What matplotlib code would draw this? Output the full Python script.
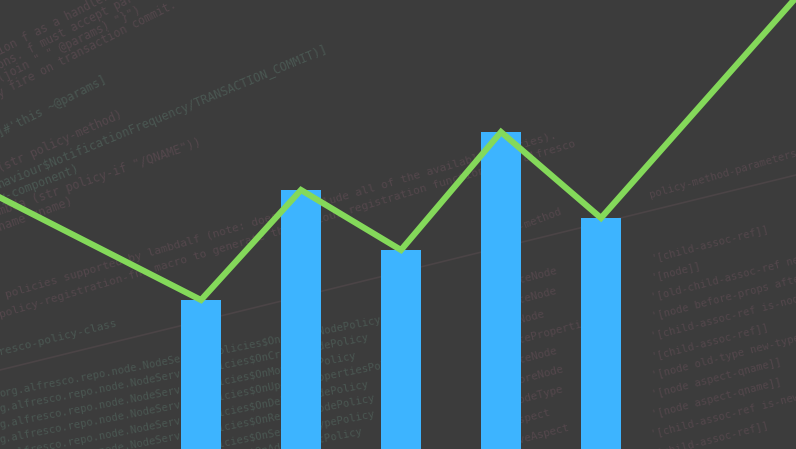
import matplotlib
matplotlib.use("Agg")
import matplotlib.pyplot as plt

# chart data (x in slot units, y in value units)
bar_x = [2, 3, 4, 5, 6]
bar_values = [149, 259, 199, 317, 231]
line_x = [0, 2, 3, 4, 5, 6, 8]
line_values = [251, 149, 259, 199, 317, 231, 457]

# faint code in the background
code_a = [
    "ion f as a handler for the",
    "ons. f must accept parameters",
    "(join \" \" @params) \"}\")",
    "y fire on transaction commit.",
]
code_b = [
    "]#'this ~@params]",
    "(str policy-method)",
    "haviour$NotificationFrequency/TRANSACTION_COMMIT)]",
    "y-component)",
    "mbda (str policy-if \"/QNAME\"))",
    "name qname)",
]
code_c = [
    "policies supported by lambdalf (note: doesn't include all of the available policies).",
    "policy-registration-fns macro to generate the various registration functions for alfresco",
]
code_class = "resco-policy-class"
code_col1 = [
    "org.alfresco.repo.node.NodeServicePolicies$OnCreateNodePolicy",
    "g.alfresco.repo.node.NodeServicePolicies$OnCreateNodePolicy",
    "g.alfresco.repo.node.NodeServicePolicies$OnMoveNodePolicy",
    "g.alfresco.repo.node.NodeServicePolicies$OnUpdatePropertiesPolicy",
    "g.alfresco.repo.node.NodeServicePolicies$OnDeleteNodePolicy",
    "g.alfresco.repo.node.NodeServicePolicies$OnRestoreNodePolicy",
    "g.alfresco.repo.node.NodeServicePolicies$OnSetNodeTypePolicy",
    "g.alfresco.repo.node.NodeServicePolicies$OnAddAspectPolicy",
]
code_method = "policy-method"
code_col2 = [
    "onCreateNode", "onUpdateNode", "onMoveNode", "onUpdateProperties",
    "onDeleteNode", "onRestoreNode", "onSetNodeType", "onAddAspect",
    "onRemoveAspect",
]
code_params = "policy-method-parameters"
code_col3 = [
    "'[child-assoc-ref]]",
    "'[node]]",
    "'[old-child-assoc-ref new-child-assoc-ref]]",
    "'[node before-props after-props]]",
    "'[child-assoc-ref is-node-archived]]",
    "'[child-assoc-ref]]",
    "'[node old-type new-type]]",
    "'[node aspect-qname]]",
    "'[node aspect-qname]]",
    "'[child-assoc-ref is-new-node]]",
    "'[child-assoc-ref]]",
]

BG = "#3c3c3c"
BROWN = "#54474c"
GREEN = "#4a5752"
RULE = "#4b4446"
MONO = "DejaVu Sans Mono"

fig = plt.figure(figsize=(7.96, 4.49), dpi=100, facecolor=BG)

bg = fig.add_axes([0, 0, 1, 1], zorder=0)
bg.set_facecolor(BG)
bg.set_xlim(0, 796)
bg.set_ylim(449, 0)
bg.axis("off")


def code(s, x, y, angle, size, color):
    bg.text(x, y, s, rotation=angle, rotation_mode="anchor", ha="left",
            va="baseline", fontsize=size, color=color, family=MONO)


def block(lines, x0, y0, step, angle, size, color):
    for i, s in enumerate(lines):
        code(s, x0, y0 + i * step, angle, size, color)


# top-left snippets
for s, y, a in zip(code_a, [55, 69, 82, 97], [27, 27, 26, 27]):
    code(s, 0, y, a, 8.3, BROWN)
for s, y, a, c in zip(code_b, [137, 172, 188, 202, 215, 231],
                      [27, 24, 22.5, 21, 19, 20],
                      [GREEN, BROWN, GREEN, GREEN, BROWN, BROWN]):
    code(s, 0, y, a, 8.6, c)

# comment lines and first column
code(code_c[0], 6, 298, 16.2, 8.1, BROWN)
code(code_c[1], 0, 318, 16.6, 8.1, BROWN)
code(code_class, 0, 355, 14, 8.0, GREEN)
bg.plot([0, 796], [370, 175], color=RULE, lw=1.2)
block(code_col1, 0, 397, 15.5, 11, 7.6, GREEN)

# method column
code(code_method, 483, 244, 21, 7.8, BROWN)
block(code_col2, 482, 293, 20, 14.5, 7.8, BROWN)

# parameters column
code(code_params, 650, 198, 16, 7.6, BROWN)
block(code_col3, 652, 261, 19.6, 14.5, 7.6, BROWN)

ax = fig.add_axes([0, 0, 1, 1], zorder=1)
ax.patch.set_alpha(0)
ax.set_xlim(-0.01, 7.95)
ax.set_ylim(0, 449)
ax.axis("off")

ax.bar(bar_x, bar_values, width=0.4, color="#3db4ff", zorder=2)
ax.plot(line_x, line_values, color="#84d95a", lw=4.4,
        solid_joinstyle="miter", zorder=3)

fig.savefig("out.png", dpi=100, facecolor=BG)
